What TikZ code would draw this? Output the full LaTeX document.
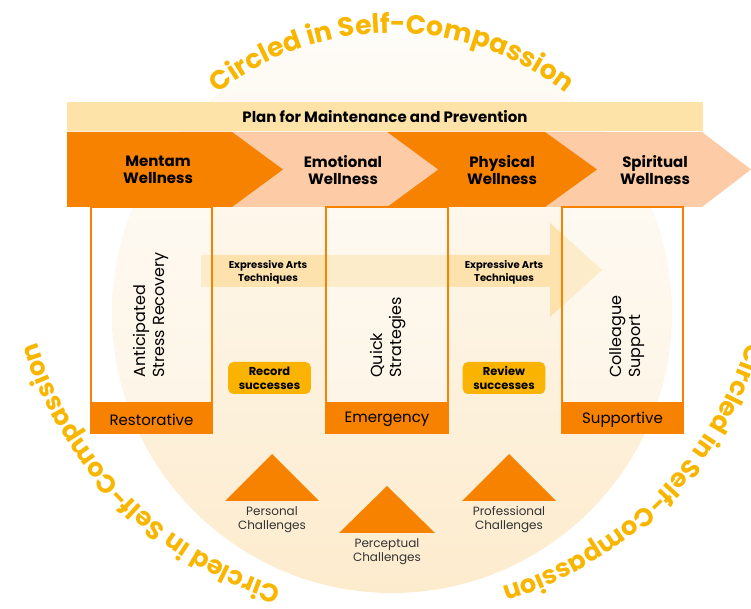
\documentclass[tikz,border=0pt]{standalone}
\usepackage{fontspec}
\setmainfont{Poppins}
\usetikzlibrary{decorations.text}
\definecolor{deeporange}{RGB}{247,130,0}
\definecolor{peach}{RGB}{253,203,165}
\definecolor{planyellow}{RGB}{253,227,167}
\definecolor{gold}{RGB}{249,179,0}
\definecolor{curvegold}{RGB}{248,182,0}
\definecolor{creamtop}{RGB}{254,252,248}
\definecolor{creambot}{RGB}{253,235,205}
\definecolor{artsfill}{RGB}{253,220,155}
\definecolor{challtext}{RGB}{51,51,51}
\newcommand\curvefont{\bfseries\fontsize{20}{22}\selectfont}
\newcommand\curvefontlow{\bfseries\fontsize{19.2}{22}\selectfont}
\tikzset{
 planbar/.style={fill=planyellow},
 planlabel/.style={font=\bfseries\fontsize{11.25}{13}\selectfont},
 chevdark/.style={fill=deeporange},
 chevlight/.style={fill=peach},
 chevlabel/.style={font=\bfseries\fontsize{11.25}{13}\selectfont,align=center},
 artsarrow/.style={fill=artsfill,fill opacity=.75},
 artslabel/.style={font=\bfseries\fontsize{7.5}{9.75}\selectfont,align=center},
 column/.style={draw=deeporange,line width=1.5pt,fill=white,fill opacity=.35},
 band/.style={fill=deeporange},
 bandlabel/.style={font=\fontsize{11.25}{13}\selectfont},
 vlabel/.style={rotate=90,anchor=west,align=left,inner sep=0,font=\fontsize{12}{14.3}\selectfont},
 button/.style={fill=gold,rounded corners=4pt,minimum width=62pt,minimum height=24pt,inner sep=0,align=center,font=\bfseries\fontsize{8.6}{10.5}\selectfont},
 hill/.style={fill=deeporange},
 challabel/.style={font=\fontsize{9}{10.5}\selectfont,align=center,text=challtext},
 curvetext/.style={decorate,decoration={text along path,text align=center,text color=curvegold,text={|#1|Circled in Self-Compassion}}}
}

\begin{document}
\begin{tikzpicture}[x=0.75pt,y=0.75pt]
\useasboundingbox (0,0) rectangle (751,608);
\coordinate (hub) at (392,295);
\coordinate (outerhub) at (392,376);
\shade[top color=creamtop,bottom color=creambot] (hub) circle[radius=280];
\path[curvetext=\curvefont] ([shift={(150:280)}]hub) arc[start angle=150,end angle=30,radius=280];
\path[curvetext=\curvefontlow] ([shift={(260:372)}]outerhub) arc[start angle=260,end angle=190,radius=372];
\path[curvetext=\curvefontlow] ([shift={(350:372)}]outerhub) arc[start angle=350,end angle=280,radius=372];

\fill[planbar] (67,477) rectangle (703,506);
\node[planlabel] (plan) at (385,491.5) {Plan for Maintenance and Prevention};

\fill[chevlight] (545,401) -- (702,401) -- (751,438.5) -- (702,476) -- (545,476) -- cycle;
\fill[chevdark] (387,401) -- (545,401) -- (597,438.5) -- (545,476) -- (387,476) -- cycle;
\fill[chevlight] (232,401) -- (387,401) -- (438,438.5) -- (387,476) -- (232,476) -- cycle;
\fill[chevdark] (67,401) -- (232,401) -- (283,438.5) -- (232,476) -- (67,476) -- cycle;
\node[chevlabel] (mental) at (158,438) {Mentam\\Wellness};
\node[chevlabel] (emotional) at (343,438) {Emotional\\Wellness};
\node[chevlabel] (physical) at (502,438) {Physical\\Wellness};
\node[chevlabel] (spiritual) at (655,438) {Spiritual\\Wellness};

\fill[artsarrow] (201,321) -- (550,321) -- (550,291) -- (602,338) -- (550,385) -- (550,353) -- (201,353) -- cycle;
\node[artslabel] (arts1) at (268,336) {Expressive Arts\\Techniques};
\node[artslabel] (arts2) at (504,336) {Expressive Arts\\Techniques};

\draw[column] (91,175) rectangle (212,401);
\draw[column] (326,175) rectangle (448,401);
\draw[column] (562,175) rectangle (683,401);
\fill[band] (91,175) rectangle (212,206);
\fill[band] (326,175) rectangle (448,206);
\fill[band] (562,175) rectangle (683,206);
\node[bandlabel] (restorative) at (151.5,188.5) {Restorative};
\node[bandlabel] (emergency) at (387,188.5) {Emergency};
\node[bandlabel] (supportive) at (622.5,188.5) {Supportive};
\node[vlabel] (recovery) at (151,230) {Anticipated\\Stress Recovery};
\node[vlabel] (quick) at (388,230) {Quick\\Strategies};
\node[vlabel] (colleague) at (627,230) {Colleague\\Support};

\node[button] (record) at (269.5,230) {Record\\successes};
\node[button] (review) at (504,230) {Review\\successes};

\fill[hill] (225,107) -- (272,154) -- (319,107) -- cycle;
\fill[hill] (339,75) -- (387,122) -- (435,75) -- cycle;
\fill[hill] (462,107) -- (509,154) -- (556,107) -- cycle;
\node[challabel] (personal) at (272,88) {Personal\\Challenges};
\node[challabel] (perceptual) at (387,56) {Perceptual\\Challenges};
\node[challabel] (professional) at (509,88) {Professional\\Challenges};
\end{tikzpicture}
\end{document}
